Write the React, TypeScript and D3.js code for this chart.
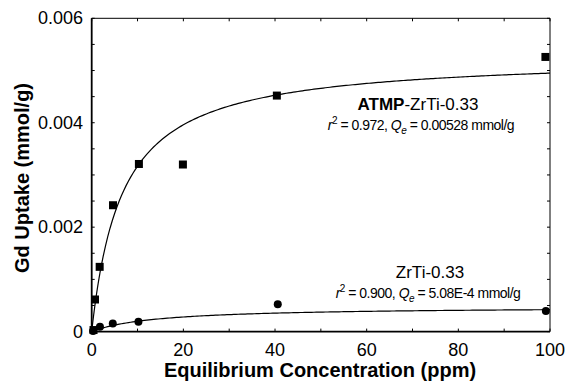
import React from "react";
import * as d3 from "d3";

const atmpX = [0.4, 0.72, 1.74, 4.65, 10.3, 19.9, 40.4, 99.0];
const atmpY = [0.00003, 0.000615, 0.00124, 0.00242, 0.00321, 0.00320, 0.00452, 0.00526];
const zrtiX = [0.3, 1.8, 4.6, 10.2, 40.6, 99.1];
const zrtiY = [0.00001, 0.000092, 0.000157, 0.000188, 0.000522, 0.000393];
// Langmuir fit parameters [Qm, K]
const atmpFit = [0.00528, 0.15];
const zrtiFit = [0.00048, 0.07];
const xTicks = [0, 20, 40, 60, 80, 100];
const yTicks = [0, 0.002, 0.004, 0.006];
const yTickLabels = ["0", "0.002", "0.004", "0.006"];

const W = 566, H = 382;
const L = 91.7, R = 550, T = 18.3, B = 331.6;

export default function App() {
  const x = d3.scaleLinear().domain([0, 100]).range([L, R]);
  const y = d3.scaleLinear().domain([0, 0.006]).range([B, T]);
  const font = "'Liberation Sans', Arial, sans-serif";
  const fitPts = (p: number[]) => {
    const xs = d3.range(0, 2, 0.02).concat(d3.range(2, 100.01, 0.5));
    return xs.map((c) => [c, (p[0] * p[1] * c) / (1 + p[1] * c)] as [number, number]);
  };
  const line = d3.line<[number, number]>().x((d) => x(d[0])).y((d) => y(d[1]));
  const xMinor = d3.range(0, 101, 10);
  const yMinor = d3.range(0, 0.00601, 0.0005);
  return (
    <svg width={W} height={H} style={{ position: "absolute", left: 0, top: 0, background: "#fff" }} fontFamily={font}>
      <rect x={0} y={0} width={W} height={H} fill="#fff" />
      {/* frame */}
      <line x1={L} x2={R} y1={T} y2={T} stroke="#000" strokeWidth={1} />
      <line x1={R} x2={R} y1={T} y2={B} stroke="#000" strokeWidth={1} />
      <line x1={L} x2={L} y1={T} y2={B} stroke="#000" strokeWidth={1.8} />
      <line x1={L} x2={R} y1={B} y2={B} stroke="#000" strokeWidth={1.8} />
      {xMinor.map((v, i) => (
        <g key={"xt" + i}>
          <line x1={x(v)} x2={x(v)} y1={B} y2={B - 3} stroke="#000" />
          <line x1={x(v)} x2={x(v)} y1={T} y2={T + 3} stroke="#000" />
        </g>
      ))}
      {yMinor.map((v, i) => (
        <g key={"yt" + i}>
          <line x1={L} x2={L + 3} y1={y(v)} y2={y(v)} stroke="#000" />
          <line x1={R} x2={R - 3} y1={y(v)} y2={y(v)} stroke="#000" />
        </g>
      ))}
      {xTicks.map((v) => (
        <text key={"xl" + v} x={x(v)} y={356} fontSize={18} textAnchor="middle">{v}</text>
      ))}
      {yTicks.map((v, i) => (
        <text key={"yl" + v} x={83} y={y(v) + 6} fontSize={18} textAnchor="end">{yTickLabels[i]}</text>
      ))}
      <text x={320} y={377} fontSize={20} fontWeight="bold" textAnchor="middle">Equilibrium Concentration (ppm)</text>
      <text transform={`translate(29,178) rotate(-90)`} fontSize={20} fontWeight="bold" textAnchor="middle">Gd Uptake (mmol/g)</text>
      {/* fits */}
      <path d={line(fitPts(atmpFit)) || ""} fill="none" stroke="#000" strokeWidth={1.2} />
      <path d={line(fitPts(zrtiFit)) || ""} fill="none" stroke="#000" strokeWidth={1.2} />
      {atmpX.map((v, i) => (
        <rect key={"s" + i} x={x(v) - 4} y={y(atmpY[i]) - 4} width={8} height={8} fill="#000" />
      ))}
      {zrtiX.map((v, i) => (
        <circle key={"c" + i} cx={x(v)} cy={y(zrtiY[i])} r={4} fill="#000" />
      ))}
      {/* annotations */}
      <text x={418} y={110} fontSize={17} textAnchor="middle">
        <tspan fontWeight="bold">ATMP</tspan>-ZrTi-0.33
      </text>
      <text x={421} y={130} fontSize={14} letterSpacing={-0.5} textAnchor="middle">
        <tspan fontStyle="italic">r</tspan><tspan fontSize={10} dy={-6}>2</tspan><tspan dy={6}> = 0.972, </tspan>
        <tspan fontStyle="italic">Q</tspan><tspan fontSize={10} fontStyle="italic" dy={4}>e</tspan><tspan dy={-4}> = 0.00528 mmol/g</tspan>
      </text>
      <text x={430} y={278} fontSize={17} textAnchor="middle">ZrTi-0.33</text>
      <text x={428} y={298} fontSize={14} letterSpacing={-0.5} textAnchor="middle">
        <tspan fontStyle="italic">r</tspan><tspan fontSize={10} dy={-6}>2</tspan><tspan dy={6}> = 0.900, </tspan>
        <tspan fontStyle="italic">Q</tspan><tspan fontSize={10} fontStyle="italic" dy={4}>e</tspan><tspan dy={-4}> = 5.08E-4 mmol/g</tspan>
      </text>
    </svg>
  );
}
